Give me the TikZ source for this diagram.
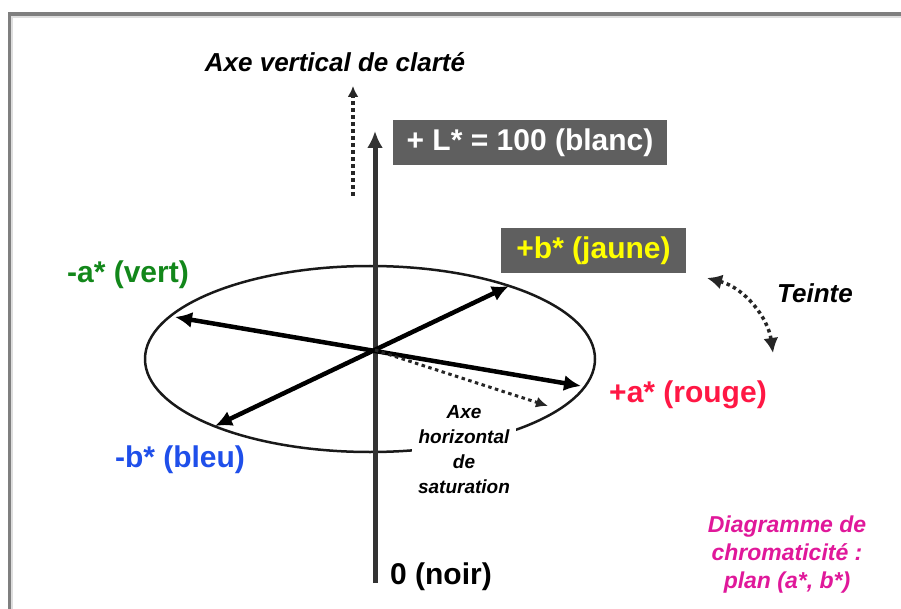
\documentclass[tikz,border=0pt]{standalone}
\usepackage{fontspec}
\setmainfont{Liberation Sans}
\usetikzlibrary{arrows.meta}
\definecolor{boxgray}{HTML}{5F5F5F}
\definecolor{axisgray}{HTML}{333333}
\definecolor{framegray}{HTML}{7F7F7F}
\definecolor{vertc}{HTML}{12871A}
\definecolor{bleuc}{HTML}{1F4FEA}
\definecolor{rougec}{HTML}{FF1744}
\definecolor{jaunec}{HTML}{FFFF00}
\definecolor{magc}{HTML}{E0189A}
\begin{document}
\begin{tikzpicture}[x=1pt,y=-1pt,
  bigtxt/.style={font=\fontsize{30}{36}\selectfont\bfseries, inner sep=0pt},
  graybox/.style={fill=boxgray, text=white, font=\fontsize{30}{36}\selectfont\bfseries, inner sep=0pt, anchor=center},
  ittxt/.style={font=\fontsize{26}{30}\selectfont\bfseries\itshape, inner sep=0pt},
  dblarrow/.style={line width=4.5pt, {Latex[length=17pt,width=16pt]}-{Latex[length=17pt,width=16pt]}},
  dotline/.style={line width=3.5pt, dash pattern=on 3.5pt off 3.5pt, color=black!85}
]
\useasboundingbox (0,0) rectangle (901,609);
% frame
\draw[framegray, line width=4pt] (8,14) -- (901,14);
\draw[framegray, line width=3pt] (9.5,12) -- (9.5,609);
\draw[black!13, line width=2pt] (11,17) -- (901,17);
\draw[black!13, line width=2pt] (12,17) -- (12,609);

% coordinates
\coordinate (O) at (375,350);
\coordinate (Lbot) at (375,583);
\coordinate (Ltop) at (375,131);
\coordinate (am) at (175,317);
\coordinate (ap) at (581,386);
\coordinate (bm) at (215,426);
\coordinate (bp) at (509,286);
\coordinate (sat) at (548,406);
\coordinate (vdotb) at (353,196);
\coordinate (vdott) at (353,86);
\coordinate (t1) at (707,278);
\coordinate (t2) at (773,353);

% ellipse
\draw[line width=2.5pt, black!90] (370,359) ellipse [x radius=225, y radius=93];

% saturation label (covers ellipse)
\node[fill=white, inner xsep=6pt, inner ysep=3pt, align=center,
      font=\fontsize{19}{25}\selectfont\bfseries\itshape] (satlbl) at (464,450)
  {Axe\\horizontal\\de\\saturation};

% vertical axis
\draw[axisgray, line width=5pt, -{Latex[length=17pt,width=16pt]}] (Lbot) -- (Ltop);
% vertical dotted arrow
\draw[dotline, -{Latex[length=11pt,width=11pt]}] (vdotb) -- (vdott);

% chroma arrows
\draw[dblarrow] (am) -- (ap);
\draw[dblarrow] (bm) -- (bp);
\draw[dotline, line width=3pt, -{Latex[length=12pt,width=11pt]}] (O) -- (sat);

% teinte arrow
\draw[dotline, {Latex[length=15pt,width=15pt]}-{Latex[length=15pt,width=15pt]}]
  (t1) .. controls (745,288) and (768,318) .. (t2);

% labels
\node[ittxt] (axev) at (335,62) {Axe vertical de clarté};
\node[graybox, minimum width=274pt, minimum height=45pt] (Lp) at (530,142.5) {+ L* = 100 (blanc)};
\node[graybox, minimum width=185pt, minimum height=45pt, text=jaunec] (bpl) at (593.5,250.5) {+b* (jaune)};
\node[bigtxt, text=vertc] (aml) at (128,275) {-a* (vert)};
\node[bigtxt, text=rougec] (apl) at (688,395) {+a* (rouge)};
\node[bigtxt, text=bleuc] (bml) at (180,460) {-b* (bleu)};
\node[bigtxt] (noir) at (441,577) {0 (noir)};
\node[ittxt] (teinte) at (815,293) {Teinte};
\node[align=center, text=magc, inner sep=0pt,
      font=\fontsize{23}{28}\selectfont\bfseries\itshape] (diag) at (787,555)
  {Diagramme de\\chromaticité :\\plan (a*, b*)};
\end{tikzpicture}
\end{document}
